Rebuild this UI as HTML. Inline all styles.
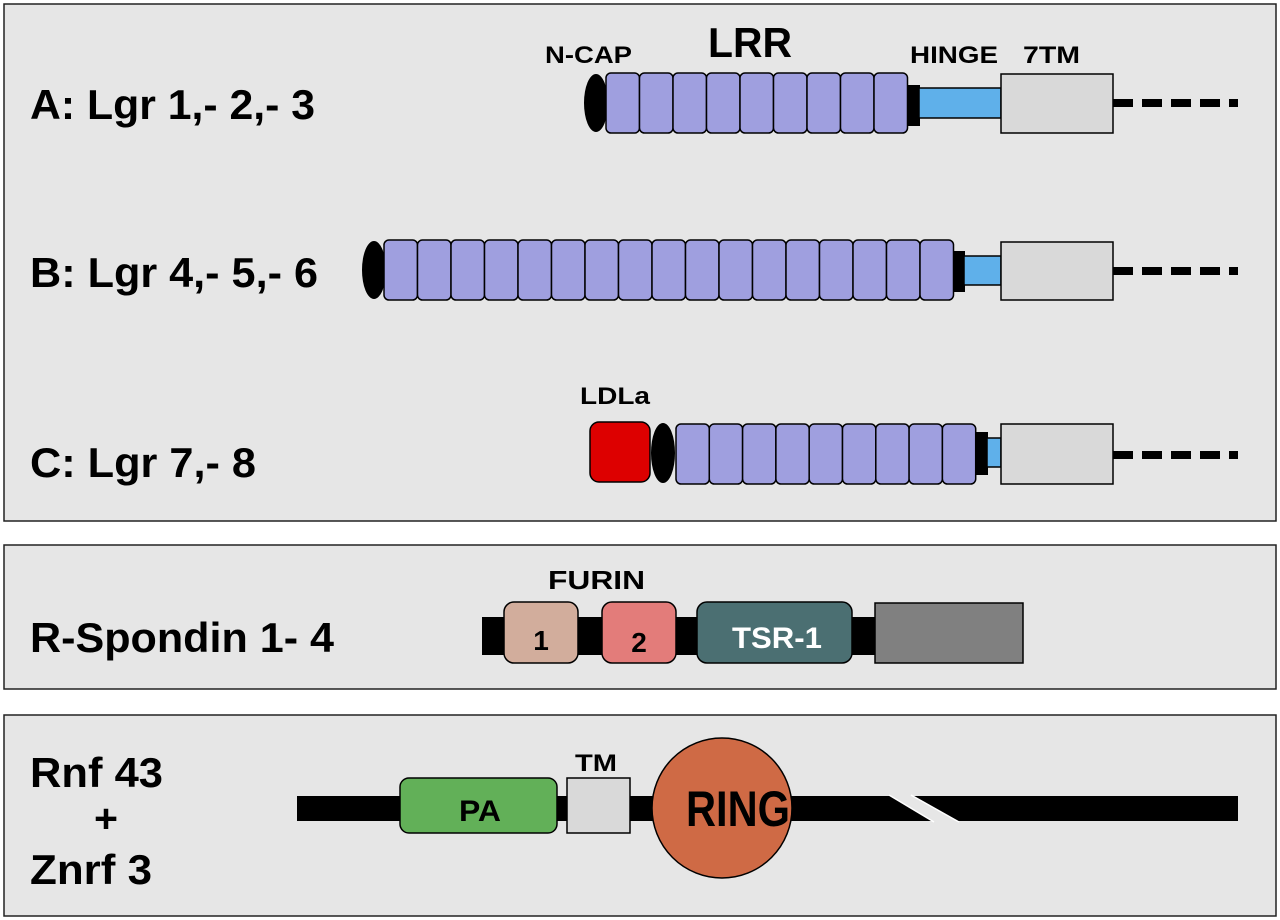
<!DOCTYPE html>
<html><head><meta charset="utf-8"><style>
html,body{margin:0;padding:0;background:#fff;}
svg{display:block}
text{font-family:"Liberation Sans",Arial,sans-serif;font-weight:bold;}
</style></head><body>
<svg width="1280" height="920" viewBox="0 0 1280 920" xmlns="http://www.w3.org/2000/svg">
<rect width="1280" height="920" fill="#fff"/>
<rect x="4" y="4" width="1272" height="517" fill="#e6e6e6" stroke="#222" stroke-width="1.5"/>
<rect x="4" y="545" width="1272" height="144" fill="#e6e6e6" stroke="#222" stroke-width="1.5"/>
<rect x="4" y="715" width="1272" height="201" fill="#e6e6e6" stroke="#222" stroke-width="1.5"/>

<!-- Panel A -->
<text x="30" y="119" font-size="42" textLength="285" lengthAdjust="spacingAndGlyphs">A: Lgr 1,- 2,- 3</text>
<text x="545" y="63" font-size="24" textLength="87" lengthAdjust="spacingAndGlyphs">N-CAP</text>
<text x="708" y="57" font-size="42" textLength="84" lengthAdjust="spacingAndGlyphs">LRR</text>
<text x="910" y="63" font-size="24" textLength="88" lengthAdjust="spacingAndGlyphs">HINGE</text>
<text x="1023" y="63" font-size="24" textLength="57" lengthAdjust="spacingAndGlyphs">7TM</text>
<line x1="1113" y1="103" x2="1238" y2="103" stroke="#000" stroke-width="8" stroke-dasharray="20,9"/>
<rect x="908" y="85" width="12" height="41" fill="#000"/>
<rect x="919" y="88" width="82" height="30" fill="#5fb0ea" stroke="#000" stroke-width="1.5"/>
<rect x="1001" y="74" width="112" height="59" fill="#d9d9d9" stroke="#000" stroke-width="1.5"/>
<ellipse cx="596" cy="103" rx="12" ry="29" fill="#000"/>
<g fill="#9f9fdf" stroke="#000" stroke-width="1.5">
<rect x="606" y="73" width="33.5" height="60" rx="5"/>
<rect x="639.5" y="73" width="33.5" height="60" rx="5"/>
<rect x="673" y="73" width="33.5" height="60" rx="5"/>
<rect x="706.5" y="73" width="33.5" height="60" rx="5"/>
<rect x="740" y="73" width="33.5" height="60" rx="5"/>
<rect x="773.5" y="73" width="33.5" height="60" rx="5"/>
<rect x="807" y="73" width="33.5" height="60" rx="5"/>
<rect x="840.5" y="73" width="33.5" height="60" rx="5"/>
<rect x="874" y="73" width="33.5" height="60" rx="5"/>
</g>

<!-- Panel B -->
<text x="30" y="287" font-size="42" textLength="288" lengthAdjust="spacingAndGlyphs">B: Lgr 4,- 5,- 6</text>
<line x1="1113" y1="271" x2="1238" y2="271" stroke="#000" stroke-width="8" stroke-dasharray="20,9"/>
<rect x="953" y="251" width="12" height="41" fill="#000"/>
<rect x="964" y="256" width="37" height="29" fill="#5fb0ea" stroke="#000" stroke-width="1.5"/>
<rect x="1001" y="242" width="112" height="58" fill="#d9d9d9" stroke="#000" stroke-width="1.5"/>
<ellipse cx="374" cy="270" rx="12" ry="29" fill="#000"/>
<g fill="#9f9fdf" stroke="#000" stroke-width="1.5">
<rect x="384" y="240" width="33.5" height="60" rx="5"/>
<rect x="417.5" y="240" width="33.5" height="60" rx="5"/>
<rect x="451" y="240" width="33.5" height="60" rx="5"/>
<rect x="484.5" y="240" width="33.5" height="60" rx="5"/>
<rect x="518" y="240" width="33.5" height="60" rx="5"/>
<rect x="551.5" y="240" width="33.5" height="60" rx="5"/>
<rect x="585" y="240" width="33.5" height="60" rx="5"/>
<rect x="618.5" y="240" width="33.5" height="60" rx="5"/>
<rect x="652" y="240" width="33.5" height="60" rx="5"/>
<rect x="685.5" y="240" width="33.5" height="60" rx="5"/>
<rect x="719" y="240" width="33.5" height="60" rx="5"/>
<rect x="752.5" y="240" width="33.5" height="60" rx="5"/>
<rect x="786" y="240" width="33.5" height="60" rx="5"/>
<rect x="819.5" y="240" width="33.5" height="60" rx="5"/>
<rect x="853" y="240" width="33.5" height="60" rx="5"/>
<rect x="886.5" y="240" width="33.5" height="60" rx="5"/>
<rect x="920" y="240" width="33.5" height="60" rx="5"/>
</g>

<!-- Panel C -->
<text x="30" y="477" font-size="42" textLength="226" lengthAdjust="spacingAndGlyphs">C: Lgr 7,- 8</text>
<text x="580" y="404" font-size="24" textLength="70" lengthAdjust="spacingAndGlyphs">LDLa</text>
<line x1="1113" y1="455" x2="1238" y2="455" stroke="#000" stroke-width="8" stroke-dasharray="20,9"/>
<rect x="976" y="432" width="12" height="43" fill="#000"/>
<rect x="987" y="438" width="14" height="29" fill="#5fb0ea" stroke="#000" stroke-width="1.5"/>
<rect x="1001" y="424" width="112" height="60" fill="#d9d9d9" stroke="#000" stroke-width="1.5"/>
<rect x="590" y="422" width="60" height="60" rx="9" fill="#dd0000" stroke="#000" stroke-width="1.5"/>
<ellipse cx="663" cy="453" rx="12" ry="30" fill="#000"/>
<g fill="#9f9fdf" stroke="#000" stroke-width="1.5">
<rect x="676" y="424" width="33.3" height="60" rx="5"/>
<rect x="709.3" y="424" width="33.3" height="60" rx="5"/>
<rect x="742.6" y="424" width="33.3" height="60" rx="5"/>
<rect x="775.9" y="424" width="33.3" height="60" rx="5"/>
<rect x="809.2" y="424" width="33.3" height="60" rx="5"/>
<rect x="842.5" y="424" width="33.3" height="60" rx="5"/>
<rect x="875.8" y="424" width="33.3" height="60" rx="5"/>
<rect x="909.1" y="424" width="33.3" height="60" rx="5"/>
<rect x="942.4" y="424" width="33.3" height="60" rx="5"/>
</g>

<!-- R-Spondin -->
<text x="30" y="652" font-size="42" textLength="304" lengthAdjust="spacingAndGlyphs">R-Spondin 1- 4</text>
<text x="548" y="589" font-size="26" textLength="97" lengthAdjust="spacingAndGlyphs">FURIN</text>
<rect x="482" y="617" width="393" height="38" fill="#000"/>
<rect x="504" y="602" width="74" height="61" rx="10" fill="#d2ad9c" stroke="#000" stroke-width="1.5"/>
<text x="541" y="650" font-size="28" text-anchor="middle">1</text>
<rect x="602" y="602" width="74" height="61" rx="10" fill="#e37c7a" stroke="#000" stroke-width="1.5"/>
<text x="639" y="652" font-size="28" text-anchor="middle">2</text>
<rect x="697" y="602" width="155" height="61" rx="10" fill="#4b6f72" stroke="#000" stroke-width="1.5"/>
<text x="732" y="648" font-size="30" textLength="90" lengthAdjust="spacingAndGlyphs" fill="#fff">TSR-1</text>
<rect x="875" y="603" width="148" height="60" fill="#808080" stroke="#000" stroke-width="1.5"/>

<!-- Rnf 43 -->
<text x="30" y="787" font-size="42" textLength="133" lengthAdjust="spacingAndGlyphs">Rnf 43</text>
<text x="94" y="832" font-size="40" textLength="24" lengthAdjust="spacingAndGlyphs">+</text>
<text x="30" y="884" font-size="42" textLength="122" lengthAdjust="spacingAndGlyphs">Znrf 3</text>
<rect x="297" y="796" width="941" height="25" fill="#000"/>
<polygon points="889,795 911,795 959,822 934,822" fill="#e6e6e6"/>
<line x1="889" y1="795" x2="934" y2="822" stroke="#fff" stroke-width="1.5"/>
<line x1="911" y1="795" x2="959" y2="822" stroke="#fff" stroke-width="1.5"/>
<rect x="400" y="778" width="157" height="55" rx="9" fill="#62b058" stroke="#000" stroke-width="1.5"/>
<text x="459" y="821" font-size="30" textLength="42" lengthAdjust="spacingAndGlyphs">PA</text>
<rect x="567" y="778" width="63" height="55" fill="#d9d9d9" stroke="#000" stroke-width="1.5"/>
<text x="575" y="771" font-size="24" textLength="42" lengthAdjust="spacingAndGlyphs">TM</text>
<circle cx="722" cy="808" r="70" fill="#cf6a45" stroke="#000" stroke-width="1.5"/>
<text x="686" y="826" font-size="50" textLength="104" lengthAdjust="spacingAndGlyphs">RING</text>
</svg>
</body></html>
